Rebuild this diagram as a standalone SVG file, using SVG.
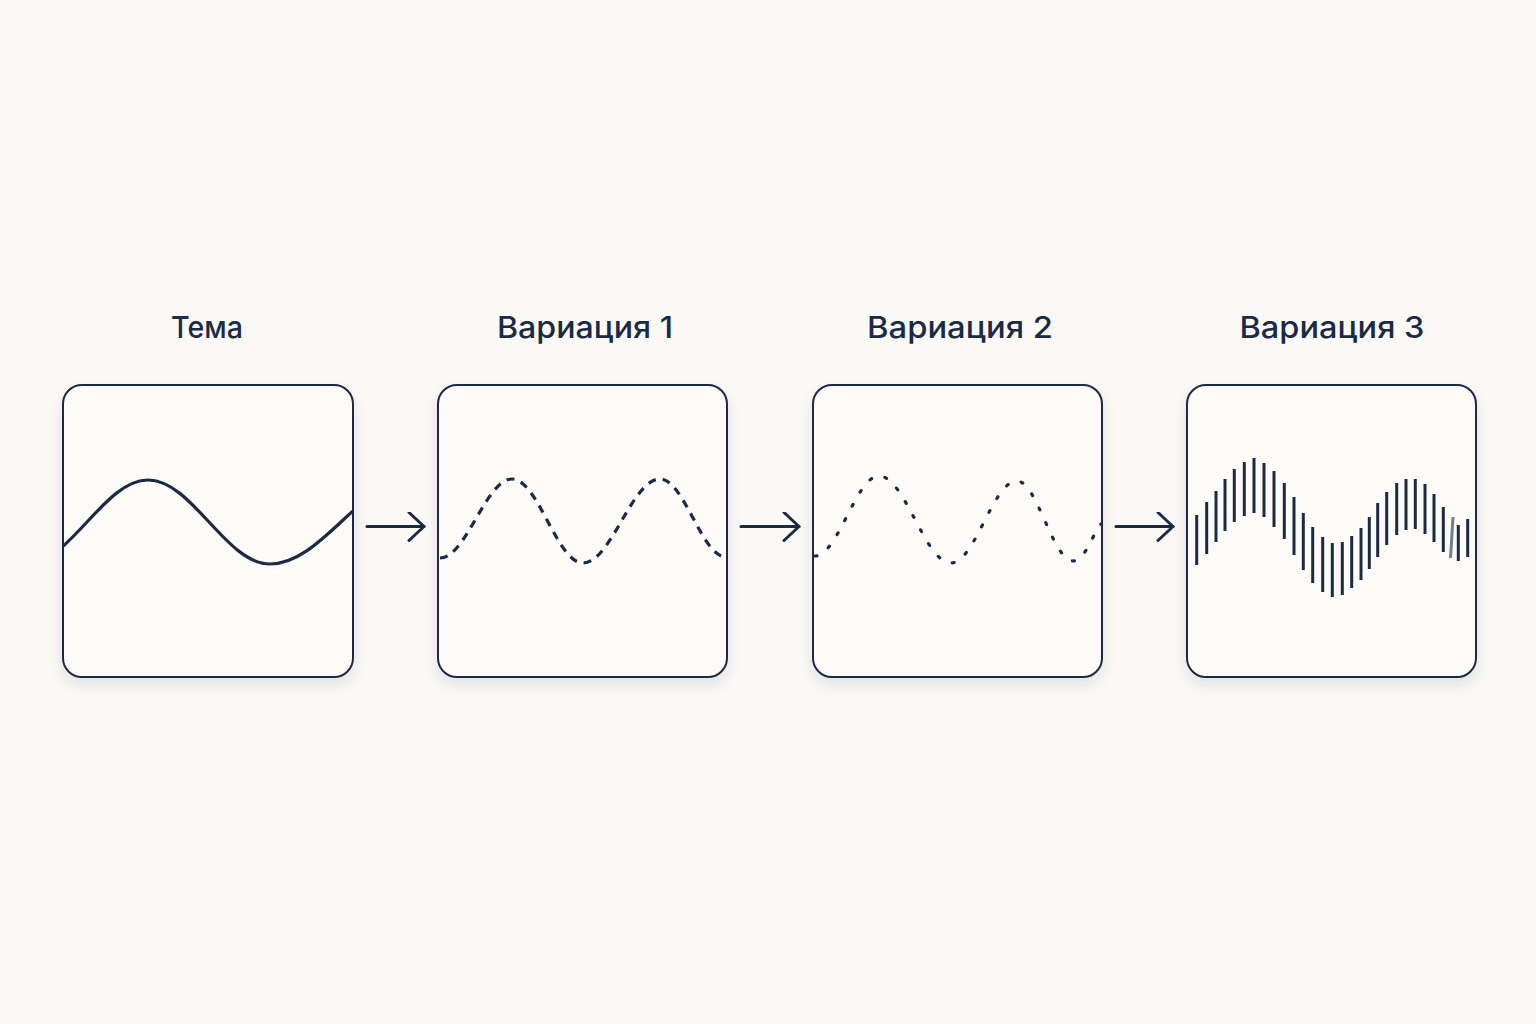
<svg xmlns="http://www.w3.org/2000/svg" width="1536" height="1024" viewBox="0 0 1536 1024">
  <defs>
    <filter id="shadow" x="-20%" y="-20%" width="140%" height="150%">
      <feDropShadow dx="0" dy="7" stdDeviation="7" flood-color="#1b2a45" flood-opacity="0.10"/>
    </filter>
    <clipPath id="clip1"><rect x="64" y="386" width="288" height="290" rx="18"/></clipPath>
    <marker id="chev" viewBox="0 0 20 30" refX="17" refY="15" markerWidth="20" markerHeight="30" markerUnits="userSpaceOnUse" orient="auto">
      <path d="M2,1 L17,15 L2,29" fill="none" stroke="#1b2a45" stroke-width="3" stroke-linecap="round" stroke-linejoin="round"/>
    </marker>
  </defs>
  <style>
    .box { fill: #fcfbf8; stroke: #1b2a45; stroke-width: 2; }
    .label { font-family: Inter, "Noto Sans", "DejaVu Sans", sans-serif; font-size: 30px; font-weight: 500; fill: #1b2a45; text-anchor: middle; }
    .wave { fill: none; stroke: #1b2a45; stroke-width: 3.2; }
    .conn { stroke: #1b2a45; stroke-width: 3; fill: none; stroke-linecap: round; }
    .bar { stroke: #1b2a45; stroke-width: 3; stroke-linecap: butt; }
  </style>
  <rect width="1536" height="1024" fill="#faf9f5"/>

  <g id="node-tema">
    <rect class="box" x="63" y="385" width="290" height="292" rx="19" filter="url(#shadow)"/>
    <text class="label" x="207" y="338" textLength="72" lengthAdjust="spacingAndGlyphs">Тема</text>
    <path class="wave" clip-path="url(#clip1)" d="M26,564 C70.3,564 103.7,480 148,480 C192.3,480 225.7,564 270,564 C321.6,564 360.4,480 412,480"/>
  </g>

  <g id="node-var1">
    <rect class="box" x="438" y="385" width="289" height="292" rx="19" filter="url(#shadow)"/>
    <text class="label" x="585" y="338" textLength="176" lengthAdjust="spacingAndGlyphs">Вариация 1</text>
    <path class="wave" stroke-dasharray="8 7" d="M440,558 C466,558 486,479 512,479 C538,479 557,563 583,563 C611,563 632,479 660,479 C684,479 702,557 726,557"/>
  </g>

  <g id="node-var2">
    <rect class="box" x="813" y="385" width="289" height="292" rx="19" filter="url(#shadow)"/>
    <text class="label" x="960" y="338" textLength="186" lengthAdjust="spacingAndGlyphs">Вариация 2</text>
    <path class="wave" stroke-width="5" stroke-linecap="round" stroke-dasharray="2 14" d="M815,556 C838,556 856,476 879,476 C905,476 925,563 951,563 C975,563 993,481 1017,481 C1037,481 1053,561 1073,561 C1085,561 1092,535 1101,524"/>
  </g>

  <g id="node-var3">
    <rect class="box" x="1187" y="385" width="289" height="292" rx="19" filter="url(#shadow)"/>
    <text class="label" x="1332" y="338" textLength="185" lengthAdjust="spacingAndGlyphs">Вариация 3</text>
    <g id="bars">
      <line class="bar" x1="1196.7" y1="515" x2="1196.7" y2="565"/>
      <line class="bar" x1="1206.7" y1="502" x2="1206.7" y2="554"/>
      <line class="bar" x1="1216" y1="491" x2="1216" y2="542"/>
      <line class="bar" x1="1225" y1="479" x2="1225" y2="531"/>
      <line class="bar" x1="1234.3" y1="469" x2="1234.3" y2="522"/>
      <line class="bar" x1="1244.3" y1="462" x2="1244.3" y2="516"/>
      <line class="bar" x1="1254" y1="458" x2="1254" y2="513"/>
      <line class="bar" x1="1264" y1="463" x2="1264" y2="517"/>
      <line class="bar" x1="1274" y1="471" x2="1274" y2="527"/>
      <line class="bar" x1="1284.3" y1="483" x2="1284.3" y2="539"/>
      <line class="bar" x1="1294" y1="497" x2="1294" y2="555"/>
      <line class="bar" x1="1303.3" y1="513" x2="1303.3" y2="570"/>
      <line class="bar" x1="1312.7" y1="527" x2="1312.7" y2="583"/>
      <line class="bar" x1="1322.7" y1="537" x2="1322.7" y2="592"/>
      <line class="bar" x1="1332.3" y1="543" x2="1332.3" y2="597"/>
      <line class="bar" x1="1342.3" y1="542" x2="1342.3" y2="595"/>
      <line class="bar" x1="1351.7" y1="536" x2="1351.7" y2="588"/>
      <line class="bar" x1="1361" y1="528" x2="1361" y2="580"/>
      <line class="bar" x1="1369.3" y1="517" x2="1369.3" y2="569"/>
      <line class="bar" x1="1377.7" y1="503" x2="1377.7" y2="557"/>
      <line class="bar" x1="1386.7" y1="492" x2="1386.7" y2="545"/>
      <line class="bar" x1="1396.7" y1="483" x2="1396.7" y2="535"/>
      <line class="bar" x1="1406" y1="479" x2="1406" y2="530"/>
      <line class="bar" x1="1415.3" y1="479" x2="1415.3" y2="529"/>
      <line class="bar" x1="1425" y1="484" x2="1425" y2="534"/>
      <line class="bar" x1="1434" y1="494" x2="1434" y2="542"/>
      <line class="bar" x1="1443.3" y1="507" x2="1443.3" y2="552"/>
      <line class="bar" x1="1453" y1="517" x2="1450.5" y2="558" opacity="0.6"/>
      <line class="bar" x1="1458.3" y1="525" x2="1458.3" y2="561"/>
      <line class="bar" x1="1467.7" y1="519" x2="1467.7" y2="557"/>
    </g>
  </g>

  <g id="connectors">
    <line class="conn" x1="367" y1="526.5" x2="424" y2="526.5" marker-end="url(#chev)"/>
    <line class="conn" x1="741" y1="526.5" x2="799" y2="526.5" marker-end="url(#chev)"/>
    <line class="conn" x1="1116" y1="526.5" x2="1173" y2="526.5" marker-end="url(#chev)"/>
  </g>
</svg>
